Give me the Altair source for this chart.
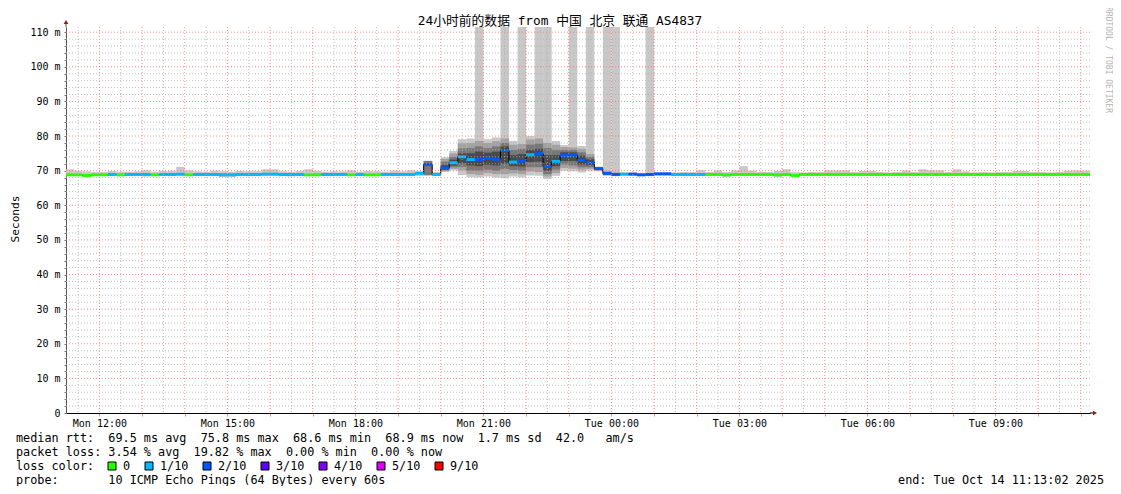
import altair as alt
import pandas as pd

# ---------------- data ----------------
T_START = 11.2172   # Mon 11:13:02, hours since Mon 00:00
T_END = 35.2172     # Tue 11:13:02
FIRST_BIN = 11.2
STEP = 0.2          # 12-minute consolidation step

MEDIAN = [
    68.8, 68.8, 68.6, 68.8, 68.8, 68.9, 68.8, 68.9, 68.9, 68.9,
    68.8, 68.9, 68.9, 69.0, 68.8, 68.9, 68.9, 68.9, 68.8, 68.8,
    68.9, 68.9, 68.9, 69.0, 69.0, 68.9, 68.9, 68.9, 68.8, 68.8,
    68.9, 68.9, 68.9, 68.8, 68.9, 68.8, 68.8, 68.9, 68.9, 68.9,
    68.9, 69.2, 71.8, 68.9, 70.8, 72.3, 74.0, 73.2, 73.2, 73.6,
    73.3, 75.8, 72.5, 72.8, 74.6, 74.9, 71.2, 72.7, 74.4, 74.5,
    73.0, 72.4, 70.6, 69.2, 68.9, 69.0, 69.0, 68.8, 68.9, 69.1,
    69.1, 68.9, 68.9, 68.9, 68.9, 68.9, 68.9, 68.8, 68.9, 68.9,
    68.9, 68.9, 68.9, 68.8, 68.9, 68.6, 68.9, 68.9, 68.9, 68.9,
    68.9, 68.9, 68.9, 68.9, 68.9, 68.9, 68.9, 68.9, 68.9, 68.9,
    68.9, 68.9, 68.9, 68.9, 68.9, 68.9, 68.9, 68.9, 68.9, 68.9,
    68.9, 68.9, 68.9, 68.9, 68.9, 68.9, 68.9, 68.9, 68.9, 68.9,
    68.9,
]

LOSS = [
    0, 0, 0, 0, 0, 1, 0, 1, 1, 1,
    0, 1, 1, 1, 0, 1, 1, 1, 1, 1,
    1, 1, 1, 1, 1, 1, 1, 1, 0, 0,
    1, 1, 1, 0, 1, 0, 0, 1, 1, 1,
    1, 1, 2, 1, 2, 1, 1, 1, 2, 2,
    2, 2, 1, 2, 1, 2, 2, 1, 2, 2,
    2, 2, 2, 2, 2, 1, 2, 2, 2, 2,
    2, 1, 1, 1, 1, 0, 0, 0, 0, 0,
    0, 0, 0, 0, 0, 0, 0, 0, 0, 0,
    0, 0, 0, 0, 0, 0, 0, 0, 0, 0,
    0, 0, 0, 0, 0, 0, 0, 0, 0, 0,
    0, 0, 0, 0, 0, 0, 0, 0, 0, 0,
    0,
]

SMOKE_HI = [
    70.4, 70.0, 69.8, 69.6, 69.6, 69.9, 69.7, 69.7, 69.8, 70.1,
    69.7, 69.9, 70.0, 71.1, 70.1, 69.8, 69.7, 70.0, 69.8, 69.7,
    69.9, 69.8, 69.8, 70.4, 70.4, 69.8, 69.7, 69.9, 70.4, 69.9,
    69.7, 69.8, 69.8, 70.1, 69.7, 69.9, 69.8, 69.7, 70.0, 69.8,
    70.1, 69.9, 72.9, 69.6, 73.9, 75.7, 79.1, 79.3, 115.0, 79.1,
    79.6, 115.0, 78.6, 115.0, 80.0, 115.0, 115.0, 78.6, 77.4, 115.0,
    77.1, 115.0, 71.2, 115.0, 115.0, 69.5, 69.5, 69.4, 115.0, 69.5,
    69.5, 69.5, 69.6, 69.6, 70.1, 69.6, 70.1, 69.6, 70.1, 71.3,
    70.0, 69.6, 69.6, 69.9, 70.4, 69.6, 69.5, 69.6, 69.6, 70.1,
    70.1, 70.1, 69.6, 69.9, 69.9, 69.6, 69.5, 69.6, 70.1, 69.6,
    70.4, 70.1, 70.1, 69.6, 70.4, 69.8, 69.5, 69.6, 69.5, 69.6,
    69.6, 69.9, 69.9, 69.6, 69.6, 69.5, 69.6, 70.0, 70.1, 70.0,
    70.0,
]

SMOKE_LO = [
    68.4, 68.4, 68.2, 68.4, 68.4, 68.4, 68.4, 68.4, 68.4, 68.3,
    68.4, 68.4, 68.4, 68.4, 68.4, 68.4, 68.4, 68.4, 68.2, 68.2,
    68.4, 68.4, 68.4, 68.4, 68.4, 68.4, 68.3, 68.4, 68.4, 68.4,
    68.4, 68.4, 68.4, 68.4, 68.4, 68.4, 68.4, 68.4, 68.4, 68.4,
    68.4, 68.5, 68.6, 68.4, 69.6, 70.1, 68.7, 68.1, 68.0, 68.3,
    68.0, 67.8, 68.3, 68.0, 68.6, 68.5, 67.6, 68.5, 70.0, 69.8,
    69.5, 70.0, 69.8, 68.5, 68.4, 68.5, 68.5, 68.4, 68.4, 68.5,
    68.5, 68.4, 68.4, 68.4, 68.4, 68.4, 68.4, 68.2, 68.4, 68.4,
    68.4, 68.4, 68.4, 68.2, 68.4, 68.1, 68.4, 68.4, 68.4, 68.4,
    68.4, 68.4, 68.4, 68.4, 68.4, 68.4, 68.4, 68.4, 68.4, 68.4,
    68.4, 68.4, 68.4, 68.4, 68.4, 68.4, 68.4, 68.4, 68.4, 68.4,
    68.4, 68.4, 68.4, 68.4, 68.4, 68.4, 68.4, 68.4, 68.4, 68.4,
    68.4,
]

# inner smoke layers for the busy evening period (bins 42..64)
BUSY_FIRST = 42
L2_HI = [72.8, 69.3, 73.4, 75.0, 77.9, 78.0, 78.6, 78.0, 78.5, 79.3, 77.5, 77.7,
         79.0, 79.3, 78.0, 77.5, 76.8, 76.7, 76.3, 74.8, 71.0, 69.9, 69.5]
L2_LO = [68.7, 68.6, 69.9, 70.5, 70.1, 69.0, 68.8, 69.3, 69.0, 69.0, 69.2, 69.0,
         69.8, 69.6, 68.3, 69.3, 70.8, 70.6, 70.3, 70.5, 70.0, 68.7, 68.6]
L3_HI = [72.8, 68.9, 72.6, 74.0, 76.4, 76.5, 77.0, 76.5, 77.0, 78.0, 76.0, 76.3,
         77.5, 77.8, 76.5, 76.0, 76.0, 76.0, 75.3, 74.0, 70.9, 69.5, 69.2]
L3_LO = [68.7, 68.9, 70.1, 71.0, 71.1, 70.0, 70.0, 70.3, 70.0, 70.5, 70.2, 70.0,
         71.0, 71.0, 69.0, 70.3, 71.8, 71.5, 71.0, 71.0, 70.2, 68.9, 68.8]
CORE_HI = [71.8, 68.9, 71.6, 73.2, 75.0, 75.0, 75.5, 75.2, 75.5, 77.0, 74.5, 74.8,
           76.0, 76.3, 74.5, 74.5, 75.3, 75.3, 74.3, 73.3, 70.8, 69.2, 68.9]
CORE_LO = [71.8, 68.9, 70.3, 71.5, 72.1, 71.5, 71.3, 71.7, 71.5, 72.0, 71.3, 71.2,
           72.5, 72.6, 70.0, 71.3, 72.8, 72.8, 71.8, 71.6, 70.4, 69.2, 68.9]

LOSS_LABELS = ["0", "1/10", "2/10", "3/10", "4/10", "5/10", "9/10"]
LOSS_COLORS = ["#26ff00", "#00b8ff", "#0059ff", "#5e00ff", "#7e00ff", "#dd00ff", "#ff0000"]

TITLE = "24小时前的数据 from 中国 北京 联通 AS4837"
LEGEND_LINES = [
    "median rtt:  69.5 ms avg  75.8 ms max  68.6 ms min  68.9 ms now  1.7 ms sd  42.0   am/s",
    "packet loss: 3.54 % avg  19.82 % max  0.00 % min  0.00 % now",
    "loss color:",
    "probe:       10 ICMP Echo Pings (64 Bytes) every 60s",
]
END_TEXT = "end: Tue Oct 14 11:13:02 2025"
WATERMARK = "RRDTOOL / TOBI OETIKER"

# ---------------- layout / style ----------------
W, H = 1024, 386
LEFT, TOP = 58, 19
MONO = "DejaVu Sans Mono, Noto Sans CJK SC"
NB = "\u00a0"

def nb(s):
    return s.replace(" ", NB)

xs = alt.Scale(domain=[T_START, T_END], nice=False, zero=False)
ys = alt.Scale(domain=[0, 111.5], nice=False, zero=False)

n = len(MEDIAN)
t0 = [FIRST_BIN + STEP * i for i in range(n)]
bins = pd.DataFrame({
    "t0": t0,
    "t1": [t + STEP for t in t0],
    "med": MEDIAN,
    "lo": SMOKE_LO,
    "hi": SMOKE_HI,
    "color": [LOSS_COLORS[l] for l in LOSS],
})
bins["mlo"] = bins["med"] - 0.42
bins["mhi"] = bins["med"] + 0.42

busy = bins.iloc[BUSY_FIRST:BUSY_FIRST + len(L2_HI)][["t0", "t1"]].copy()
busy["l2hi"], busy["l2lo"] = L2_HI, L2_LO
busy["l3hi"], busy["l3lo"] = L3_HI, L3_LO
busy["chi"], busy["clo"] = CORE_HI, CORE_LO

line_df = pd.DataFrame({"t": t0 + [t0[-1] + STEP], "med": MEDIAN + [MEDIAN[-1]]})

x_axis = alt.Axis(
    values=list(range(12, 36)),
    labelExpr="datum.value % 3 == 0 ? (datum.value < 24 ? 'Mon ' : 'Tue ') + format(datum.value % 24, '02d') + ':00' : ''",
    title=None, grid=False, domainColor="#000000", domainWidth=1,
    tickColor="#ff8080", tickSize=3, labelFont=MONO, labelFontSize=10,
    labelColor="#000000", labelPadding=2, labelOverlap=False, labelFlush=False,
)
y_axis = alt.Axis(
    values=list(range(0, 111, 2)),
    labelExpr="datum.value % 10 == 0 ? (datum.value == 0 ? '0" + NB + NB + "' : datum.value + '" + NB + "m') : ''",
    title=None, grid=False, domainColor="#555555", tickColor="#777777",
    tickSize=2, labelFont=MONO, labelFontSize=10, labelColor="#000000",
    labelPadding=4, labelOverlap=False,
)

outer = alt.Chart(bins).mark_rect(color="#c8c8c8", clip=True).encode(
    x=alt.X("t0:Q", scale=xs, axis=x_axis), x2="t1:Q",
    y=alt.Y("lo:Q", scale=ys, axis=y_axis), y2="hi:Q",
)

def smoke_layer(hi, lo, color):
    return alt.Chart(busy).mark_rect(color=color, clip=True).encode(
        x=alt.X("t0:Q", scale=xs, axis=None), x2="t1:Q",
        y=alt.Y(f"{lo}:Q", scale=ys, axis=None), y2=f"{hi}:Q",
    )

l2 = smoke_layer("l2hi", "l2lo", "#a2a2a2")
l3 = smoke_layer("l3hi", "l3lo", "#787878")
core = smoke_layer("chi", "clo", "#4a4a4a")

step_line = alt.Chart(line_df).mark_line(
    interpolate="step-after", color="#000000", strokeWidth=1, clip=True
).encode(x=alt.X("t:Q", scale=xs, axis=None), y=alt.Y("med:Q", scale=ys, axis=None))

band = alt.Chart(bins).mark_rect(clip=True).encode(
    x=alt.X("t0:Q", scale=xs, axis=None), x2="t1:Q",
    y=alt.Y("mlo:Q", scale=ys, axis=None), y2="mhi:Q",
    color=alt.Color("color:N", scale=None),
)

# grid drawn on top, as rrdtool does
minor_x = pd.DataFrame({"t": [h + 0.5 for h in range(11, 35)]})
major_x = pd.DataFrame({"t": list(range(12, 36))})
minor_y = pd.DataFrame({"v": [v for v in range(2, 111, 2) if v % 10]})
major_y = pd.DataFrame({"v": list(range(10, 111, 10))})

g_minor_x = alt.Chart(minor_x).mark_rule(color="#b0b0b0", strokeDash=[1, 2], opacity=0.8).encode(
    x=alt.X("t:Q", scale=xs, axis=None))
g_major_x = alt.Chart(major_x).mark_rule(color="#ff7070", strokeDash=[1, 2], opacity=0.8).encode(
    x=alt.X("t:Q", scale=xs, axis=None))
g_minor_y = alt.Chart(minor_y).mark_rule(color="#b0b0b0", strokeDash=[1, 2], opacity=0.8).encode(
    y=alt.Y("v:Q", scale=ys, axis=None))
g_major_y = alt.Chart(major_y).mark_rule(color="#ff7070", strokeDash=[1, 2], opacity=0.8).encode(
    y=alt.Y("v:Q", scale=ys, axis=None))

one = pd.DataFrame({"a": [0]})

def text(s, px, py, size=11.8, color="#000000", align="left", angle=0, font=MONO):
    kw = dict(align=align, baseline="middle", font=font, fontSize=size, color=color)
    if angle:
        kw["angle"] = angle
    return alt.Chart(pd.DataFrame({"s": [s]})).mark_text(**kw).encode(
        text="s:N", x=alt.value(px - 66), y=alt.value(py - 27))

texts = [
    text(TITLE, 560, 21, size=12.8, align="center"),
    text("Seconds", 16, 219, size=11.2, align="center", angle=270),
    text(WATERMARK, 1108, 60, size=8.0, color="#b4b4b4", align="center", angle=90),
    text(nb(END_TEXT), 1104, 480, align="right"),
]
for i, line in enumerate(LEGEND_LINES):
    texts.append(text(nb(line), 16, 438 + 14 * i))

BOX_X = [108, 145, 203, 261, 319, 377, 435]
for bx, lab, col in zip(BOX_X, LOSS_LABELS, LOSS_COLORS):
    texts.append(
        alt.Chart(one).mark_rect(color=col, stroke="#000000", strokeWidth=1).encode(
            x=alt.value(bx - 66), x2=alt.value(bx - 66 + 8),
            y=alt.value(462 - 27), y2=alt.value(470 - 27))
    )
    texts.append(text(lab, bx + 15, 466))

# axis arrows
arrows = [
    alt.Chart(one).mark_rule(color="#000000").encode(
        x=alt.value(W), x2=alt.value(W + 4), y=alt.value(H)),
    alt.Chart(one).mark_rule(color="#555555").encode(
        x=alt.value(0), y=alt.value(-4), y2=alt.value(0)),
    alt.Chart(one).mark_point(shape="triangle-right", filled=True, color="#8b1c1c", size=22, opacity=1).encode(
        x=alt.value(W + 5), y=alt.value(H)),
    alt.Chart(one).mark_point(shape="triangle-up", filled=True, color="#8b1c1c", size=22, opacity=1).encode(
        x=alt.value(0), y=alt.value(-5)),
]

chart = alt.layer(
    outer, l2, l3, core, step_line, band,
    g_minor_x, g_minor_y, g_major_x, g_major_y,
    *arrows, *texts,
).resolve_axis(
    x="independent", y="independent"
).properties(
    width=W, height=H,
    autosize=alt.AutoSizeParams(type="none"),
    padding={"left": LEFT, "top": TOP, "right": 23, "bottom": 73},
    background="#ffffff",
).configure_view(stroke=None)

chart.save("out.html", embed_options={"renderer": "svg", "actions": False})
